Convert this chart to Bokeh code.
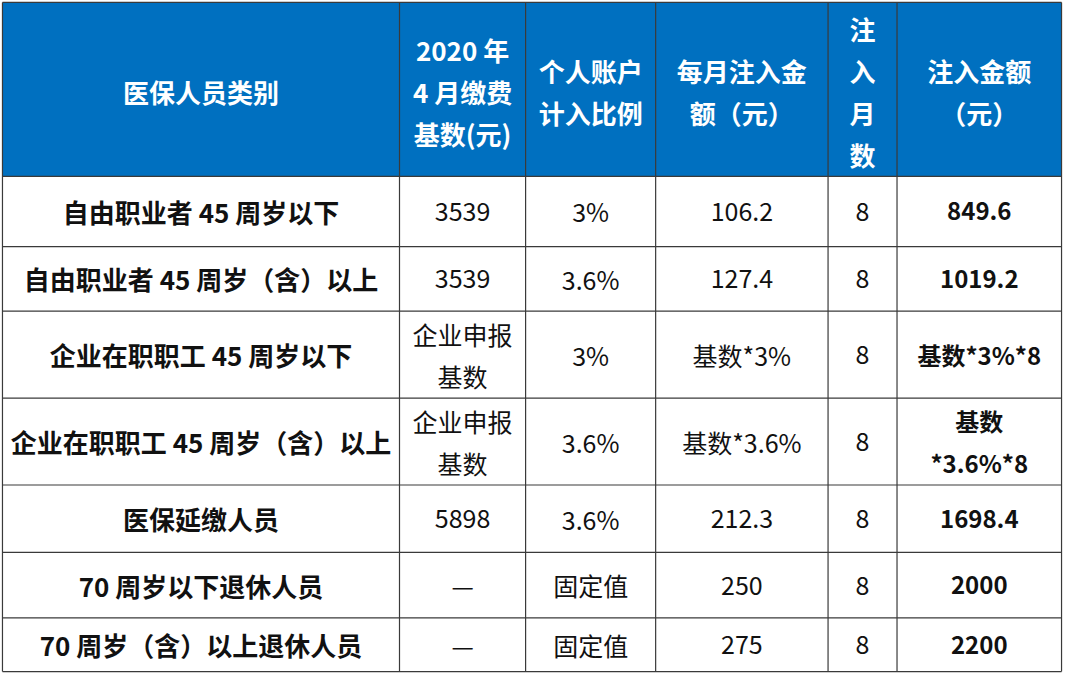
from bokeh.plotting import figure
from bokeh.models import Range1d, ColumnDataSource
from bokeh.core.properties import value
from bokeh.embed import file_html
from bokeh.resources import INLINE

# ---- data ----
headers = ["医保人员类别", "2020 年\n4 月缴费\n基数(元)", "个人账户\n计入比例",
           "每月注入金\n额（元）", "注\n入\n月\n数", "注入金额\n（元）"]
categories = ["自由职业者 45 周岁以下", "自由职业者 45 周岁（含）以上",
              "企业在职职工 45 周岁以下", "企业在职职工 45 周岁（含）以上",
              "医保延缴人员", "70 周岁以下退休人员", "70 周岁（含）以上退休人员"]
base_apr2020 = ["3539", "3539", "企业申报\n基数", "企业申报\n基数", "5898", "—", "—"]
account_ratio = ["3%", "3.6%", "3%", "3.6%", "3.6%", "固定值", "固定值"]
monthly_amount = ["106.2", "127.4", "基数*3%", "基数*3.6%", "212.3", "250", "275"]
months = ["8", "8", "8", "8", "8", "8", "8"]
total_amount = ["849.6", "1019.2", "基数*3%*8", "基数\n*3.6%*8", "1698.4", "2000", "2200"]

columns = [categories, base_apr2020, account_ratio, monthly_amount, months, total_amount]

# ---- layout (reference pixel grid) ----
col_edges = [2, 405, 533, 665, 840, 910, 1077]
row_edges = [2, 180, 252, 318, 407, 496, 565, 632, 687]
col_font = [26, 25, 25, 25, 25, 24]
col_bold = [True, False, False, False, False, True]
FONT = "Noto Sans CJK SC"

p = figure(width=1064, height=673, x_range=Range1d(0, 1080), y_range=Range1d(689, 0),
           output_backend="svg", toolbar_location=None, min_border=0)
p.axis.visible = False
p.grid.visible = False
p.outline_line_color = None
p.background_fill_color = "white"
p.border_fill_color = "white"

# header background
p.quad(left=[col_edges[0]], right=[col_edges[-1]], top=[row_edges[0]], bottom=[row_edges[1]],
       fill_color="#0070C0", line_color=None)

# grid lines
xs, ys = [], []
for x in col_edges:
    xs.append([x, x]); ys.append([row_edges[0], row_edges[-1]])
for y in row_edges:
    xs.append([col_edges[0], col_edges[-1]]); ys.append([y, y])
p.multi_line(xs, ys, line_color="#3a3a3a", line_width=1.2)


def draw_text(d, size, bold, color):
    if not d["t"]:
        return
    p.text(x="x", y="y", text="t", source=ColumnDataSource(d),
           text_font=value(FONT), text_font_size=f"{size}px",
           text_font_style="bold" if bold else "normal",
           text_color=color, text_align="center", text_baseline="middle")


def cell_lines(txt, cx, cy, gap, d):
    lines = txt.split("\n")
    n = len(lines)
    for li, line in enumerate(lines):
        d["x"].append(cx)
        d["y"].append(cy + (li - (n - 1) / 2) * gap)
        d["t"].append(line)


# header texts
hd = dict(x=[], y=[], t=[])
for ci, h in enumerate(headers):
    cx = (col_edges[ci] + col_edges[ci + 1]) / 2
    cell_lines(h, cx, (row_edges[0] + row_edges[1]) / 2 + 2, 43, hd)
draw_text(hd, 26, True, "white")

# body texts
for ci, col in enumerate(columns):
    d = dict(x=[], y=[], t=[])
    cx = (col_edges[ci] + col_edges[ci + 1]) / 2
    for ri, txt in enumerate(col):
        cy = (row_edges[ri + 1] + row_edges[ri + 2]) / 2
        cell_lines(txt, cx, cy, 43, d)
    draw_text(d, col_font[ci], col_bold[ci], "#111111")

open("out.html", "w").write(file_html(p, INLINE))
